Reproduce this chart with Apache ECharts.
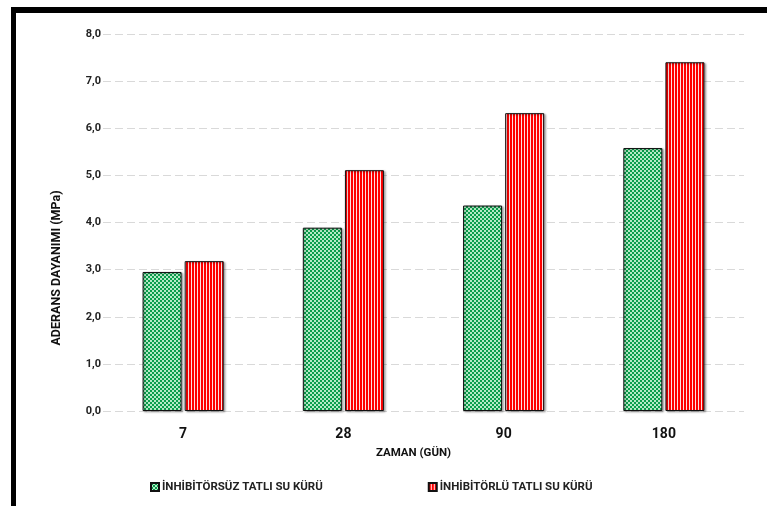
<!DOCTYPE html>
<html><head><meta charset="utf-8">
<script src="https://cdn.jsdelivr.net/npm/echarts@6/dist/echarts.min.js"></script>
<style>html,body{margin:0;padding:0;background:#fff}#c{width:767px;height:506px}</style>
</head><body><div id="c"></div><script>
const categories = ['7', '28', '90', '180'];
const seriesNames = ['İNHİBİTÖRSÜZ TATLI SU KÜRÜ', 'İNHİBİTÖRLÜ TATLI SU KÜRÜ'];
const withoutInhibitor = [2.95, 3.89, 4.36, 5.58];
const withInhibitor = [3.18, 5.11, 6.32, 7.40];
const yTicks = { min: 0, max: 8, interval: 1 };
const xTitle = 'ZAMAN (GÜN)';
const yTitle = 'ADERANS DAYANIMI (MPa)';

function checker() {
  const c = document.createElement('canvas'); c.width = 4; c.height = 4;
  const g = c.getContext('2d');
  g.fillStyle = '#b4eac6'; g.fillRect(0, 0, 4, 4);
  g.fillStyle = '#0a9e4c';
  g.fillRect(0, 0, 2, 2); g.fillRect(2, 2, 2, 2);
  return c;
}
function stripes() {
  const c = document.createElement('canvas'); c.width = 3; c.height = 4;
  const g = c.getContext('2d');
  g.fillStyle = '#ff0000'; g.fillRect(0, 0, 3, 4);
  g.fillStyle = '#ffe0e0'; g.fillRect(2, 0, 1, 4);
  return c;
}
const font = 'Roboto, "Liberation Sans", sans-serif';
const chart = echarts.init(document.getElementById('c'), null, { renderer: 'canvas' });
const barStyle = (img) => ({
  color: { image: img, repeat: 'repeat' },
  borderColor: '#111', borderWidth: 1,
  shadowColor: 'rgba(0,0,0,0.35)', shadowBlur: 2, shadowOffsetX: 1.5, shadowOffsetY: 1
});
chart.setOption({
  animation: false,
  backgroundColor: '#fff',
  textStyle: { fontFamily: font },
  grid: { left: 103, right: 23, top: 34, bottom: 95, containLabel: false },
  xAxis: {
    type: 'category', data: categories,
    axisLine: { show: false }, axisTick: { show: false },
    axisLabel: { fontFamily: font, fontWeight: 'bold', fontSize: 14, color: '#111', margin: 16 },
    name: xTitle, nameLocation: 'middle', nameGap: 36,
    nameTextStyle: { fontFamily: font, fontWeight: 'bold', fontSize: 11.5, color: '#111', padding: [0, 20, 0, 0] }
  },
  yAxis: {
    type: 'value', min: yTicks.min, max: yTicks.max, interval: yTicks.interval,
    axisLine: { show: false }, axisTick: { show: false },
    axisLabel: { fontFamily: font, fontWeight: 'bold', fontSize: 11, color: '#222', margin: 2,
      formatter: v => v.toFixed(1).replace('.', ',') },
    splitLine: { lineStyle: { color: '#d9d9d9', width: 1, type: [8, 4] } }
  },
  legend: {
    data: seriesNames, bottom: 8, left: 145, itemWidth: 8, itemHeight: 8, itemGap: 105,
    icon: 'rect',
    textStyle: { fontFamily: font, fontWeight: 'bold', fontSize: 11.5, color: '#222', padding: [0, 0, 0, -2] }
  },
  series: [
    { name: seriesNames[0], type: 'bar', data: withoutInhibitor, barWidth: 39, barGap: '8%', itemStyle: barStyle(checker()) },
    { name: seriesNames[1], type: 'bar', data: withInhibitor, barWidth: 39, itemStyle: barStyle(stripes()) }
  ],
  graphic: [
    { type: 'rect', shape: { x: 11, y: 7, width: 756, height: 6 }, style: { fill: '#000' } },
    { type: 'rect', shape: { x: 11, y: 7, width: 5, height: 499 }, style: { fill: '#000' } },
    { type: 'text', x: 57, y: 268, rotation: Math.PI / 2,
      style: { text: yTitle, fontFamily: font, fontWeight: 'bold', fontSize: 12.5, fill: '#111', align: 'center', verticalAlign: 'middle' } }
  ]
});
</script></body></html>
